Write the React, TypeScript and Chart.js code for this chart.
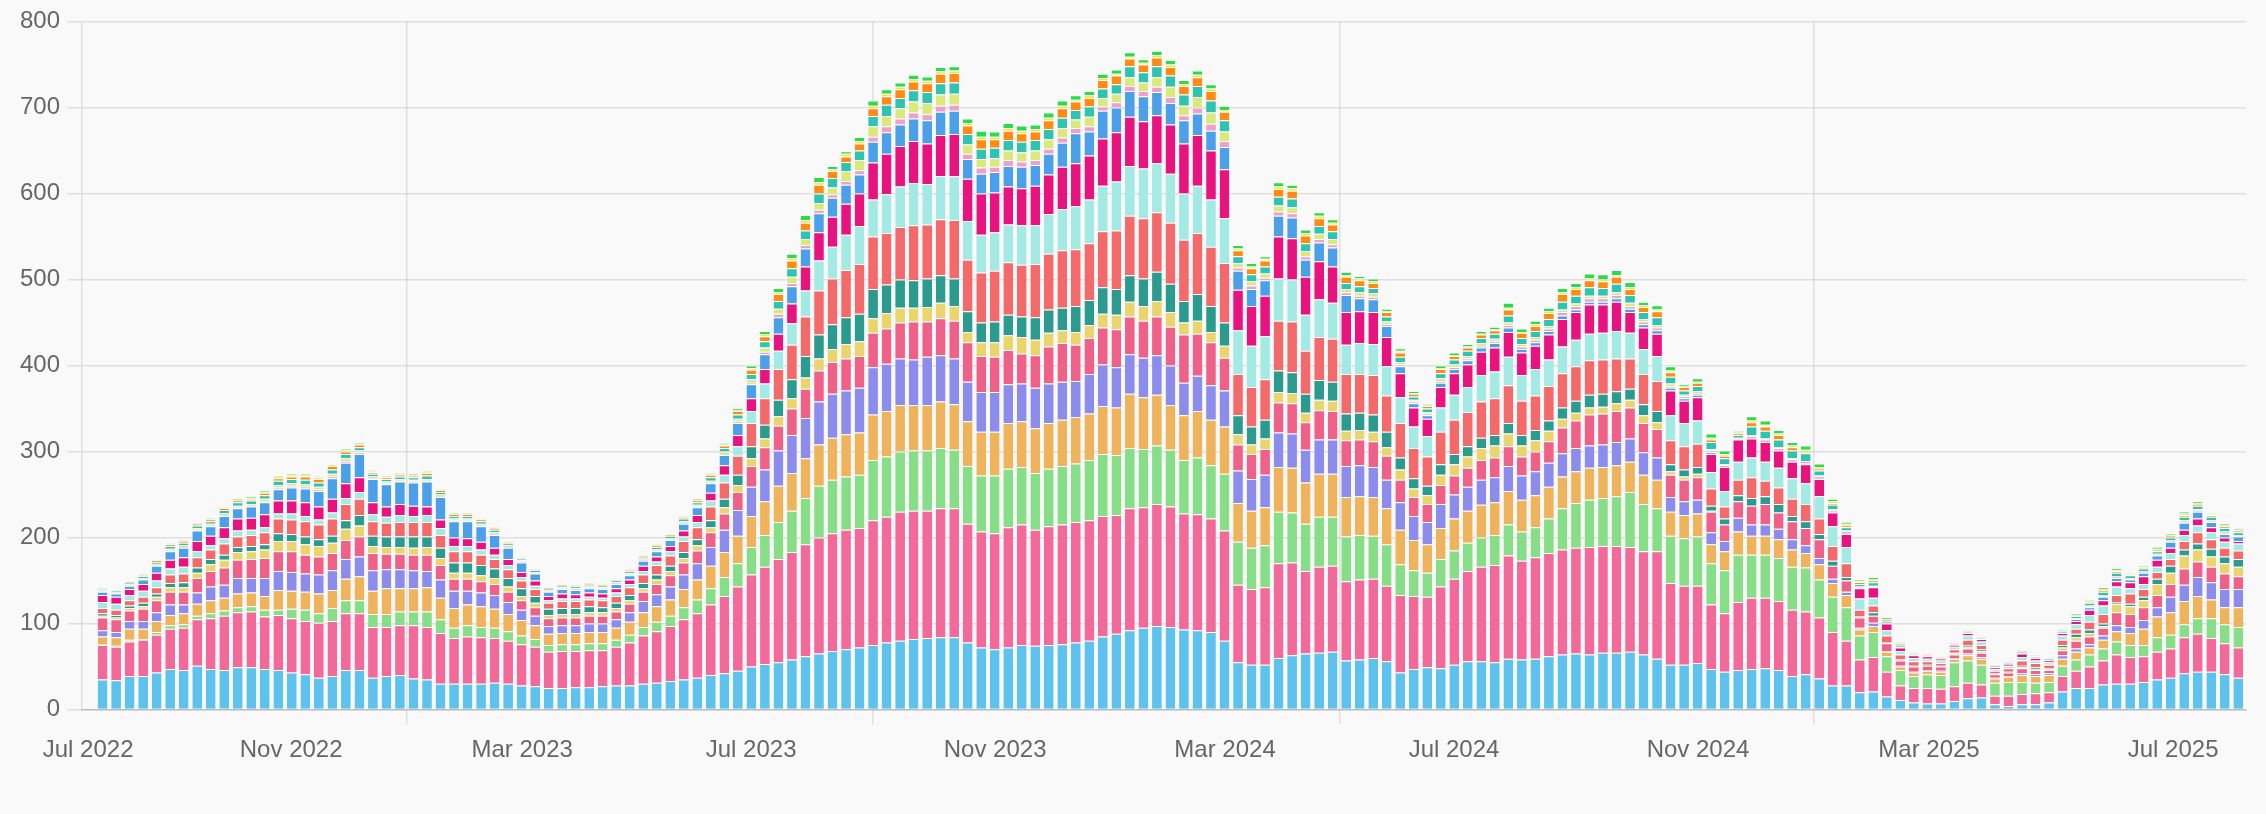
import React, { useEffect, useRef } from 'react';
import { Chart, registerables } from 'chart.js';

Chart.register(...registerables);

// ---- categories: one bar per week, first bar centred on 28 Jul 2022 ----
const FIRST_WEEK_UTC = Date.UTC(2022, 6, 28);
const WEEK_COUNT = 159;
const weekIndex: number[] = Array.from({ length: WEEK_COUNT }, (_, i) => i);
const weekLabels: string[] = weekIndex.map((i) =>
  new Date(FIRST_WEEK_UTC + i * 7 * 86400000).toISOString().slice(0, 10)
);

// ---- x axis tick labels (positions in week units) ----
const xTickLabels = ['Jul 2022', 'Nov 2022', 'Mar 2023', 'Jul 2023', 'Nov 2023', 'Mar 2024', 'Jul 2024', 'Nov 2024', 'Mar 2025', 'Jul 2025'];
const xTickWeeks = [-1.07, 13.95, 31.04, 47.98, 66.03, 83.04, 99.98, 118.03, 135.12, 153.18];
const xGridWeeks = [22.53, 57.0, 91.55, 126.6];
const X_MIN = -1.52;
const X_MAX = 158.57;

// ---- y axis ----
const Y_MIN = 0;
const Y_MAX = 800;
const Y_STEP = 100;

// ---- series values (bottom to top of each stack) ----
const s01 = [35,34,39,39,43,47,46,51,47,46, 49,49,47,46,43,41,37,39,46,46, 37,39,40,36,35,30,30,30,30,31, 30,28,27,25,25,26,26,27,28,28, 30,31,33,35,37,40,42,45,50,53, 55,58,62,65,68,70,72,75,78,80, 82,83,84,84,78,72,70,72,75,74, 75,76,78,80,85,88,92,95,97,96, 93,92,90,80,55,52,52,60,63,65, 66,67,57,58,60,56,43,47,49,48, 52,56,56,55,59,58,59,62,64,65, 64,66,66,67,64,59,52,52,54,47, 44,46,47,48,46,39,41,36,28,28, 20,21,15,11,8,7,7,10,13,14, 6,4,6,6,8,21,25,25,29,30, 30,32,35,37,42,44,44,41,37];
const s02 = [40,39,40,42,44,47,49,54,59,63, 64,65,61,64,63,62,64,64,66,66, 59,57,58,62,61,59,53,55,54,52, 50,48,46,42,43,42,43,42,45,50, 56,60,64,70,75,82,90,98,107,113, 120,125,130,135,137,139,139,145,146,150, 149,148,150,150,138,135,135,140,140,135, 138,139,140,140,140,138,142,140,142,140, 135,135,132,128,90,88,90,110,108,96, 100,100,92,93,92,88,90,85,82,95, 100,105,110,113,120,115,118,120,122,123, 125,124,124,122,120,125,95,92,90,75, 68,79,83,82,80,77,73,71,62,52, 38,40,29,17,17,18,17,17,18,15, 10,12,12,13,12,18,20,25,28,34, 31,30,32,34,42,44,39,36,35];
const s03 = [1,1,2,1,3,4,4,4,6,6, 6,6,8,6,11,13,11,15,15,15, 15,15,16,16,18,16,12,13,12,12, 11,10,9,8,8,8,8,8,8,9, 10,11,12,14,16,19,22,27,32,37, 43,48,54,60,62,62,62,70,70,70, 70,70,70,68,67,65,67,68,67,66, 67,68,68,70,72,70,70,68,68,66, 62,66,62,66,50,48,49,60,58,55, 58,57,52,52,50,48,36,30,28,32, 33,33,34,35,36,34,35,40,48,52, 55,56,58,64,55,50,55,55,57,48, 50,55,50,50,50,50,51,44,41,39, 28,29,18,18,14,16,16,28,26,23, 15,16,14,12,12,12,13,14,14,15, 14,13,17,16,15,18,23,22,24];
const s04 = [9,10,13,12,13,12,13,14,15,15, 16,16,16,23,21,21,23,21,25,28, 27,30,27,27,28,25,23,24,24,22, 20,18,16,13,13,13,13,13,14,15, 17,18,19,21,23,26,29,32,36,39, 42,44,46,48,49,49,49,53,53,54, 53,53,54,53,52,51,51,53,53,52, 53,54,54,54,56,55,63,60,59,52, 52,54,53,55,45,43,44,52,52,48, 50,50,46,45,45,42,40,35,33,36, 37,37,38,38,39,37,37,37,37,37, 37,36,36,35,34,33,28,27,27,22, 22,27,22,22,22,20,17,18,16,14, 7,7,5,4,4,4,4,4,6,7, 5,6,8,8,8,8,9,8,10,12, 14,19,24,26,27,26,22,20,23];
const s05 = [7,6,9,9,10,12,10,13,16,15, 18,17,21,22,22,21,22,23,23,23, 24,22,22,21,19,21,20,16,16,16, 14,12,11,9,9,9,10,10,10,11, 13,14,15,17,19,22,26,30,34,37, 41,44,47,50,51,51,52,55,55,54, 53,56,54,53,46,46,46,45,44,47, 46,44,42,46,48,47,46,46,46,46, 38,41,40,42,38,37,38,40,40,38, 40,40,36,36,35,33,32,28,26,28, 28,28,29,29,29,28,28,28,27,27, 26,26,27,27,26,26,17,16,16,14, 12,16,13,13,12,12,9,7,5,4, 2,4,1,1,1,1,1,1,2,2, 1,1,2,2,2,4,4,4,5,7, 7,10,11,18,19,22,20,21,21];
const s06 = [15,15,12,14,14,15,15,17,18,20, 21,22,23,23,24,22,21,20,22,23, 20,18,18,18,19,17,14,14,13,13, 12,11,10,9,9,9,9,9,9,10, 11,12,13,14,15,17,19,21,24,26, 29,31,34,36,37,37,37,40,41,42, 44,41,43,44,46,42,41,40,35,38, 43,45,42,42,43,44,44,43,45,45, 56,49,50,38,30,29,30,35,35,32, 34,33,30,30,30,28,26,22,21,22, 22,22,23,23,23,22,23,25,30,32, 36,36,36,36,34,33,26,25,26,24, 19,19,22,24,19,21,20,22,15,13, 12,8,9,6,6,5,5,4,6,5, 4,4,6,5,4,6,9,9,9,15, 15,15,14,15,19,18,18,18,15];
const s07 = [2,2,3,3,4,5,5,6,8,9, 9,9,10,12,12,12,12,12,13,13, 8,8,8,8,9,8,7,7,7,7, 6,5,5,4,4,4,4,4,4,4, 4,5,5,5,6,6,7,8,9,10, 11,12,13,14,15,17,17,17,18,17, 16,17,18,17,12,16,17,17,19,18, 16,15,15,15,16,17,17,17,18,17, 14,15,12,14,12,11,12,12,12,11, 12,12,11,11,11,10,12,10,10,12, 13,13,14,14,15,13,13,12,10,9, 8,8,9,9,9,8,4,4,4,1, 0,0,0,0,0,0,0,0,0,0, 0,0,0,0,0,0,0,1,2,2, 0,0,1,1,1,3,4,4,2,10, 9,8,13,13,15,14,12,12,11];
const s08 = [3,3,3,4,4,5,6,6,6,6, 6,6,6,9,8,9,8,8,10,12, 12,12,12,13,12,12,12,12,12,11, 10,9,8,7,7,7,7,6,6,6, 6,6,6,7,7,8,10,12,14,16, 19,22,25,28,29,31,32,34,33,33, 32,33,32,32,24,23,24,24,24,26, 27,26,30,29,31,30,31,32,34,33, 25,31,30,27,22,21,22,25,24,22, 23,22,20,20,20,18,14,12,11,12, 12,12,12,12,12,12,12,12,13,14, 15,15,14,13,13,13,8,8,8,6, 7,7,9,9,10,6,8,6,6,4, 1,4,1,1,1,1,1,1,2,2, 1,1,2,2,1,3,4,4,3,2, 3,4,6,8,7,7,9,8,9];
const s09 = [6,6,6,7,7,10,10,12,11,13, 12,13,14,17,17,18,17,20,19,19, 17,16,17,17,17,15,13,13,12,11, 10,9,8,7,8,8,8,8,8,9, 10,11,12,13,14,16,19,22,27,31, 36,40,46,51,53,55,58,61,60,61, 64,63,65,68,60,58,59,61,60,62, 65,67,66,66,65,68,69,70,69,71, 71,71,69,69,48,46,47,58,59,50, 50,50,46,45,46,42,40,35,34,38, 40,40,42,43,44,40,40,40,40,40, 40,40,38,35,35,35,28,27,27,20, 14,18,24,18,19,20,20,18,17,16, 8,8,8,6,5,4,3,4,6,5, 3,4,6,5,4,6,6,9,11,8, 12,9,8,8,10,13,11,10,10];
const s10 = [7,7,6,7,8,7,8,7,5,6, 7,6,6,6,7,6,6,7,7,8, 8,7,8,7,8,8,6,6,6,5, 5,4,4,3,3,3,3,3,4,4, 4,4,5,5,6,7,9,11,14,17, 21,25,30,35,37,41,44,43,45,47, 49,47,50,51,45,44,45,44,46,45, 46,48,50,51,53,57,58,58,57,57, 54,55,55,52,51,48,50,49,49,42, 44,42,34,36,36,34,30,25,24,28, 29,29,31,31,33,30,31,31,31,31, 31,31,32,30,29,29,29,27,27,19, 18,21,23,22,23,24,24,26,23,19, 13,9,6,4,4,3,3,3,5,4, 2,3,4,3,3,5,5,8,10,10, 6,6,6,7,7,8,8,7,8];
const s11 = [8,8,7,8,9,10,11,12,11,13, 14,14,15,15,15,16,15,16,17,17, 14,12,13,12,10,10,10,9,9,8, 7,6,6,5,6,5,5,5,5,5, 6,6,6,7,8,9,11,13,15,17, 20,23,28,33,35,36,38,43,47,47, 49,47,48,49,49,48,46,44,43,46, 46,49,50,51,55,57,57,55,56,57, 58,59,57,57,47,46,47,49,48,44, 44,42,38,37,37,34,28,22,20,24, 25,26,27,28,29,26,27,29,32,32, 34,33,34,24,25,26,29,26,27,21, 28,26,22,23,20,19,22,20,16,15, 12,12,8,4,3,3,2,2,3,3, 2,2,4,3,2,3,4,6,6,6, 7,9,8,6,6,8,6,5,3];
const s12 = [4,4,4,5,8,10,11,12,11,13, 12,13,14,13,15,16,18,24,24,27, 27,26,26,27,29,26,19,20,18,15, 13,11,8,5,5,5,5,5,5,5, 6,6,7,8,9,11,12,14,16,17, 19,20,21,22,22,22,22,24,25,25, 26,27,27,27,23,23,24,24,25,24, 24,28,35,28,32,29,30,29,27,25, 27,25,23,26,22,20,18,24,24,20, 22,22,20,15,15,13,8,5,4,5, 5,5,5,5,5,4,4,4,4,3, 3,3,4,4,4,4,3,3,3,2, 0,0,0,0,0,0,1,1,1,1, 0,0,0,0,0,0,0,0,0,0, 0,0,0,0,0,1,2,3,4,4, 3,4,5,7,8,8,6,4,5];
const s13 = [0.5,0.5,0.5,1,1,1,1,1,1,1, 1,1,1,2,2,2,2,2,2,2, 1,1,1,1,1,1,1,1,1,1, 1,1,1,0.5,1,1,1,1,1,1, 1,1,1,1,1,1,1,2,2,3, 4,4,4,4,4,4.5,5,6,7,7, 7,7,7,7,6,7,6,7,6,6, 6,6,6,6,5,6,6,6,6,7, 6,7,8,7,4,4,3,5,5,4, 4,4,3,3,3,2,2,2,2,2, 2,2,2,2,3,3,3,3,4,4, 4,4,4,3,3,3,2,2,2,2, 2,1,3,3,3,3,3,2,2,2, 1,1,1,1,1,1,0.5,0.5,0.5,0.5, 0.5,0.5,0.5,0.5,0.5,0.5,1,1,1,1, 1,1,1,1,1,1,1,1,1];
const s14 = [1,1,1,1,1.5,2,2,2,2,2, 2,2,3,3,3,3,3,3,3,2, 2,2,2,2,2,2,2,2,2,2, 2,1.5,1,1,1,1,1,1,1,1.5, 1.5,1.5,1.5,2,2,2,3,3,4,5, 6,7,7,8,8,11.5,12,12,12,12, 13,13,13,13,11,10,10,11,11,11, 11,11,10,11,10,10,10,10,11,12, 11,12,13,11,5,5,5,7,7,6, 6,6,4,4,4,3,3,2,2,3, 3,3,3,3,3,3,3,3,3,3, 3,3,3,4,3,3,3,2,2,2, 1,1,1,1,1,1,0,1,1,1, 1,1,0,0,0,0,0,0,0,0, 0,0,0,0,0,0.5,0.5,1,1,1, 1,1,1,1,2,2,1,2,1];
const s15 = [1.5,1.5,2,2,2,3,3,3,3,4, 4,4,4,5,5,5,5,5,5,4, 3,3,3,3,4,3,3,3,3,3, 2,2,2,2,2,2,2,2,2,2, 2,2.5,2.5,3,3,4,4,5,6,7, 9,10,10,11,11,10.5,11,12,13,12, 13,13,13,13,12,12,12,12,12,12, 12,12,11,12,11,11,13,12,13,13, 13,13,14,13,8,8,8,10,10,9, 9,9,7,7,6,6,6,4,4,6, 6,6,6,6,8,7,7,8,9,9, 10,9,10,9,8,9,8,5,6,8, 7,3,10,9,9,9,9,6,5,4, 3,4,2,2,1,1,1,1,1,1, 1,1,1.5,1,1,1,2,3,4,4, 3,3,3,3,4,4,4,4,3];
const s16 = [0.5,0.5,1,1,1.5,2,2,2,2,2, 2,2,3,3,3,4,4,4,3,3, 2,2,2,2,3,2,2,2,2,2, 2,1.5,1,1,1,1,1,1,1,1.5, 1.5,1.5,1.5,2,2,3,3,4,5,6, 8,9,9,10,8,6.5,8,9,10,10, 10,10,11,11,10,11,10,11,10,10, 10,11,10,10,10,10,9,9,10,10, 10,10,11,10,7,7,7,9,9,9, 9,8,7,7,6,5,5,3,3,5, 4,4,4,4,7,6,6,7,9,8, 8,8,8,7,6,7,5,4,4,3, 3,2,5,5,5,4,1,2,2,2, 2,2,1,1,1,1,0.5,0.5,0.5,0.5, 0.5,0.5,1,0.5,0.5,1,1,1,2,2, 1,1,2,2,2,2,2,2,2];
const s17 = [0.5,0.5,0.5,0.5,0.5,0.5,0.5,0.5,1,1, 1,1,1,2,2,2,2,2,2,1, 1,1,1,1,1,1,1,1,0.5,0.5, 0.5,0.5,0.5,0.5,0.5,0.5,0.5,0.5,0.5,0.5, 0.5,1,1,0.5,1,1,1,1,2,2, 2,3,3,3,2,3,3,3,3,3, 3,3,3,3,3,3,3,3,3,3, 3,3,2,3,2,2,2,2,3,3, 2,3,3,2,2,2,2,3,3,3, 3,2,2,2,2,1,2,1,0.5,1, 1,1,1,1,2,1,2,2,2,2, 2,2,2,2,2,2,2,1,1,2, 2,1,2,2,2,2,3,2,2,2, 1,1,1,1,0.5,0.5,0.5,0.5,0.5,0.5, 0.5,0.5,0.5,0.5,0.5,0.5,0.5,1,1,1, 1,1,1,1,2,1,1,1,1];
const s18 = [0,0,0,0.5,0.5,0.5,0.5,0.5,1,1, 1,1,1,1,1,1,1,1,1,1, 1,1,1,1,1,1,1,1,0.5,0.5, 0.5,0.5,0.5,0,0.5,0.5,0.5,0.5,0.5,0.5, 0.5,0.5,0.5,0.5,1,1,2,2,3,4, 5,5,6,6,4,3,4.5,6,5,5, 5,5,5,5,5,7,6,6,6,5, 6,6,5,5,5,5,5,4,5,5, 5,5,5,5,4,4,3,5,4,4, 4,4,4,3,3,3,3,2,1.5,3, 3,3,3,3,6,4,4,4,5,5, 6,6,6,6,4,5,5,2,4,5, 4,2,5,5,4,4,5,4,3,2, 2,3,2,1,0.5,0.5,0.5,0.5,0.5,0.5, 0.5,0.5,0.5,0.5,0.5,0.5,1,1,2,2, 1,1,2,1,2,2,1,2,1];

const seriesValues = [s01, s02, s03, s04, s05, s06, s07, s08, s09, s10, s11, s12, s13, s14, s15, s16, s17, s18];
const seriesNames = ['Series 1', 'Series 2', 'Series 3', 'Series 4', 'Series 5', 'Series 6', 'Series 7', 'Series 8', 'Series 9', 'Series 10', 'Series 11', 'Series 12', 'Series 13', 'Series 14', 'Series 15', 'Series 16', 'Series 17', 'Series 18'];
const seriesColors = ['#5ec2ee', '#f2699a', '#86de87', '#efb35c', '#8b8ceb', '#ef6189', '#e9d56b', '#2b9a8f', '#f46a6a', '#a3e9e4', '#e8137e', '#4ba0e9', '#ef9fcb', '#d9e97c', '#2fc3b1', '#ff8b12', '#f4e33a', '#29dc49'];

const FONT_FAMILY = "'Liberation Sans', Arial, Helvetica, sans-serif";
const GRID_COLOR = 'rgba(0,0,0,0.1)';

type XTick = { value: number; label: string; grid: boolean };
const xTicks: XTick[] = [
  ...xTickWeeks.map((v, i) => ({ value: v, label: xTickLabels[i], grid: false })),
  ...xGridWeeks.map((v) => ({ value: v, label: '', grid: true })),
].sort((a, b) => a.value - b.value);

export default function App() {
  const canvasRef = useRef<HTMLCanvasElement | null>(null);

  useEffect(() => {
    const canvas = canvasRef.current;
    if (!canvas) return;
    const chart = new Chart(canvas, {
      type: 'bar',
      data: {
        labels: weekIndex,
        datasets: seriesValues.map((vals, k) => ({
          label: seriesNames[k],
          data: vals,
          backgroundColor: seriesColors[k],
          borderColor: 'rgba(255,255,255,0.9)',
          borderWidth: { top: 1, right: 0, bottom: 0, left: 0 },
          borderSkipped: false,
        })),
      },
      options: {
        responsive: false,
        animation: false,
        devicePixelRatio: 1,
        layout: { padding: { left: 13, right: 20, top: 17, bottom: 38.7 } },
        plugins: {
          legend: { display: false },
          tooltip: {
            callbacks: {
              title: (items: any[]) => (items.length ? weekLabels[items[0].dataIndex] : ''),
            },
          },
        },
        scales: {
          x: {
            type: 'linear',
            min: X_MIN,
            max: X_MAX,
            bounds: 'data',
            offset: false,
            stacked: true,
            afterBuildTicks: (scale: any) => {
              scale.ticks = xTicks.map((t) => ({ value: t.value }));
            },
            grid: {
              offset: false,
              lineWidth: 1.5,
              tickLength: 15,
              color: (ctx: any) => {
                const t = xTicks[ctx.index];
                return t && t.grid ? GRID_COLOR : 'rgba(0,0,0,0)';
              },
            },
            border: { display: true, color: 'rgba(0,0,0,0.17)', width: 1.5 },
            ticks: {
              autoSkip: false,
              maxRotation: 0,
              minRotation: 0,
              padding: 11,
              color: '#666',
              font: { family: FONT_FAMILY, size: 24 },
              callback: (_v: any, index: number) => xTicks[index] ? xTicks[index].label : '',
            },
          },
          y: {
            stacked: true,
            min: Y_MIN,
            max: Y_MAX,
            grid: { color: GRID_COLOR, lineWidth: 1.5, tickLength: 15 },
            border: { display: true, color: 'rgba(0,0,0,0.1)', width: 1.5 },
            ticks: {
              stepSize: Y_STEP,
              padding: 7,
              color: '#666',
              font: { family: FONT_FAMILY, size: 24 },
            },
          },
        },
      } as any,
    });
    return () => chart.destroy();
  }, []);

  return (
    <div style={{ position: 'absolute', left: 0, top: 0, width: 2266, height: 814, background: '#f9f9f9', overflow: 'hidden' }}>
      <canvas ref={canvasRef} width={2266} height={814} style={{ display: 'block', width: 2266, height: 814 }} />
    </div>
  );
}
